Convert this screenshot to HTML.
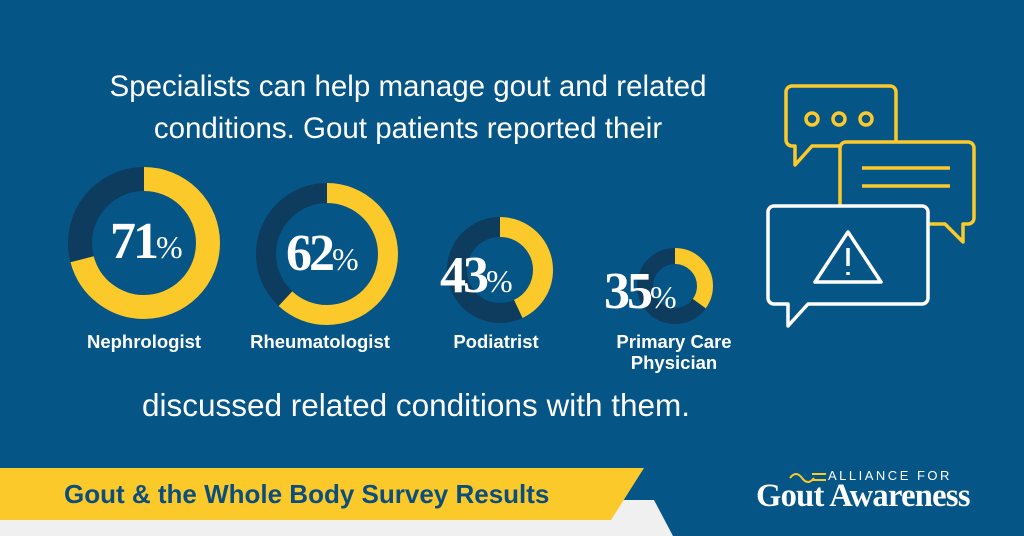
<!DOCTYPE html><html><head><style>
body{margin:0;width:1024px;height:536px;overflow:hidden;background:#055586;font-family:"Liberation Sans",sans-serif;position:relative}
.t{position:absolute;color:#fff;text-align:center;white-space:nowrap}
.lab{position:absolute;color:#fff;font-weight:bold;font-size:18.5px;text-align:center}
.pct{position:absolute;color:#fff;font-family:"Liberation Serif",serif;font-weight:bold;font-size:52px;letter-spacing:-3px}
.pct small{font-size:32px;font-weight:normal;letter-spacing:0}
</style></head><body>
<div class="t" style="left:38px;top:66px;width:740px;font-size:29.5px;line-height:42px">Specialists can help manage gout and related<br>conditions. Gout patients reported their</div>
<div class="t" style="left:56px;top:387px;width:720px;font-size:31.5px">discussed related conditions with them.</div>
<svg width="1024" height="536" style="position:absolute;left:0;top:0">
<g fill="none">
<circle cx="144" cy="243" r="64" stroke="#0d3c5f" stroke-width="24"/>
<circle cx="144" cy="243" r="64" stroke="#fcc92b" stroke-width="24" pathLength="100" stroke-dasharray="71 100" transform="rotate(-90 144 243)"/>
<circle cx="327" cy="254" r="61" stroke="#0d3c5f" stroke-width="20"/>
<circle cx="327" cy="254" r="61" stroke="#fcc92b" stroke-width="20" pathLength="100" stroke-dasharray="62 100" transform="rotate(-90 327 254)"/>
<circle cx="500" cy="270" r="43" stroke="#0d3c5f" stroke-width="20"/>
<circle cx="500" cy="270" r="43" stroke="#fcc92b" stroke-width="20" pathLength="100" stroke-dasharray="43 100" transform="rotate(-90 500 270)"/>
<circle cx="675" cy="286" r="30" stroke="#0d3c5f" stroke-width="16"/>
<circle cx="675" cy="286" r="30" stroke="#fcc92b" stroke-width="16" pathLength="100" stroke-dasharray="35 100" transform="rotate(-90 675 286)"/>
<g stroke="#fcc92b" stroke-width="3.5" stroke-linejoin="round">
<path d="M792 86H890a6 6 0 0 1 6 6V140a6 6 0 0 1-6 6H812L795 165V146H792a6 6 0 0 1-6-6V92a6 6 0 0 1 6-6Z" fill="#055586"/>
<circle cx="812" cy="119" r="6"/><circle cx="839" cy="119" r="6"/><circle cx="866" cy="119" r="6"/>
<path d="M846 142H968a6 6 0 0 1 6 6V218a6 6 0 0 1-6 6H963V242L945 224H846a6 6 0 0 1-6-6V148a6 6 0 0 1 6-6Z" fill="#055586"/>
<path d="M862 168H950M862 186H950"/>
</g>
<g stroke="#fff" stroke-width="3.5" stroke-linejoin="round">
<path d="M774 206H922a6 6 0 0 1 6 6V298a6 6 0 0 1-6 6H808L788 326V304H774a6 6 0 0 1-6-6V212a6 6 0 0 1 6-6Z" fill="#055586"/>
<path d="M848 232L881 282H815Z"/><path d="M848 248V266M848 272V275"/>
</g></g>
<path d="M0 500H654L673 536H0Z" fill="#f0f0f0"/>
<path d="M0 468H644L611 520H0Z" fill="#fcc92b"/>
<path d="M790 478q6-8 12 0q6 8 12 0M812 474h14M812 480h14" stroke="#fcc92b" stroke-width="2" fill="none"/>
</svg>
<div class="pct" style="left:110px;top:212px">71<small>%</small></div>
<div class="pct" style="left:286px;top:224px">62<small>%</small></div>
<div class="pct" style="left:440px;top:246px">43<small>%</small></div>
<div class="pct" style="left:604px;top:262px">35<small>%</small></div>
<div class="lab" style="left:54px;top:331px;width:180px">Nephrologist</div>
<div class="lab" style="left:230px;top:331px;width:180px">Rheumatologist</div>
<div class="lab" style="left:406px;top:331px;width:180px">Podiatrist</div>
<div class="lab" style="left:584px;top:331px;width:180px;line-height:21px">Primary Care<br>Physician</div>
<div style="position:absolute;left:64px;top:479px;font-weight:bold;font-size:26px;color:#0b4e7d;white-space:nowrap">Gout &amp; the Whole Body Survey Results</div>
<div style="position:absolute;left:828px;top:468px;color:#fff;font-size:13px;letter-spacing:2.5px;white-space:nowrap">ALLIANCE FOR</div>
<div style="position:absolute;left:756px;top:478px;color:#fff;font-family:'Liberation Serif',serif;font-weight:bold;font-size:32.5px;letter-spacing:-0.7px;white-space:nowrap">Gout Awareness</div>
</body></html>
